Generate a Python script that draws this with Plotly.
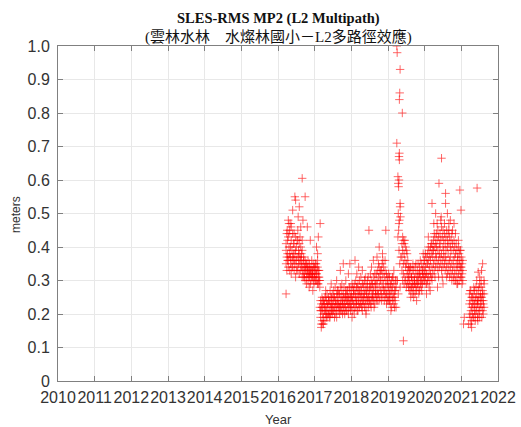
import plotly.graph_objects as go

# ---------------- data (decimal year, metres) ----------------
d16 = [2016.22, 2016.24, 2016.26, 2016.28, 2016.30, 2016.32, 2016.34, 2016.36, 2016.38, 2016.40,
       2016.42, 2016.44, 2016.46, 2016.48, 2016.50, 2016.52, 2016.54, 2016.56, 2016.58, 2016.60,
       2016.62, 2016.64, 2016.66, 2016.68, 2016.70, 2016.72, 2016.74, 2016.76, 2016.78, 2016.80,
       2016.82, 2016.84, 2016.86, 2016.88, 2016.90, 2016.92, 2016.94, 2016.96, 2016.98]
v16a = [0.41, 0.44, 0.38, 0.43, 0.40, 0.45, 0.37, 0.42, 0.39, 0.44,
        0.36, 0.41, 0.38, 0.43, 0.40, 0.37, 0.42, 0.39, 0.41, 0.36,
        0.40, 0.38, 0.42, 0.35, 0.37, 0.34, 0.36, 0.33, 0.35, 0.34,
        0.36, 0.33, 0.35, 0.32, 0.34, 0.36, 0.33, 0.35, 0.34]
v16b = [0.35, 0.33, 0.36, 0.34, 0.37, 0.33, 0.35, 0.32, 0.36, 0.34,
        0.38, 0.33, 0.35, 0.31, 0.36, 0.34, 0.33, 0.37, 0.32, 0.35,
        0.33, 0.36, 0.31, 0.33, 0.31, 0.32, 0.30, 0.33, 0.31, 0.32,
        0.30, 0.32, 0.31, 0.33, 0.30, 0.31, 0.32, 0.30, 0.31]
v16c = [0.39, 0.37, 0.42, 0.36, 0.44, 0.38, 0.40, 0.46, 0.34, 0.37,
        0.41, 0.44, 0.36, 0.39, 0.33, 0.42, 0.45, 0.35, 0.38, 0.43,
        0.37, 0.34, 0.39, 0.33, 0.36, 0.31, 0.34, 0.35, 0.29, 0.33,
        0.34, 0.31, 0.33, 0.29, 0.32, 0.33, 0.31, 0.33, 0.29]
o16_d = [2016.22, 2016.28, 2016.30, 2016.40, 2016.46, 2016.48, 2016.55, 2016.58, 2016.62, 2016.66,
         2016.68, 2016.74, 2016.80, 2016.88, 2016.85, 2016.95, 2016.35, 2016.25]
o16_v = [0.26, 0.48, 0.47, 0.51, 0.55, 0.54, 0.49, 0.52, 0.46, 0.605,
         0.48, 0.55, 0.46, 0.42, 0.28, 0.27, 0.47, 0.45]

d17 = [2017.00, 2017.02, 2017.04, 2017.06, 2017.08, 2017.10, 2017.12, 2017.14, 2017.16, 2017.18,
       2017.20, 2017.22, 2017.24, 2017.26, 2017.28, 2017.30, 2017.32, 2017.34, 2017.36, 2017.38,
       2017.40, 2017.42, 2017.44, 2017.46, 2017.48, 2017.50, 2017.52, 2017.54, 2017.56, 2017.58,
       2017.60, 2017.62, 2017.64, 2017.66, 2017.68, 2017.70, 2017.72, 2017.74, 2017.76, 2017.78,
       2017.80, 2017.82, 2017.84, 2017.86, 2017.88, 2017.90, 2017.92, 2017.94, 2017.96, 2017.98]
v17a = [0.34, 0.33, 0.35, 0.32, 0.34, 0.33, 0.31, 0.28, 0.24, 0.23,
        0.25, 0.22, 0.24, 0.23, 0.25, 0.22, 0.24, 0.26, 0.23, 0.25,
        0.24, 0.27, 0.25, 0.23, 0.26, 0.24, 0.27, 0.25, 0.28, 0.24,
        0.26, 0.25, 0.27, 0.24, 0.26, 0.28, 0.25, 0.27, 0.24, 0.26,
        0.28, 0.25, 0.27, 0.26, 0.24, 0.27, 0.25, 0.28, 0.26, 0.25]
v17b = [0.31, 0.30, 0.32, 0.30, 0.29, 0.31, 0.30, 0.22, 0.19, 0.21,
        0.18, 0.20, 0.19, 0.21, 0.18, 0.20, 0.21, 0.19, 0.22, 0.20,
        0.21, 0.19, 0.22, 0.21, 0.20, 0.23, 0.21, 0.22, 0.20, 0.22,
        0.21, 0.23, 0.21, 0.22, 0.20, 0.23, 0.22, 0.21, 0.23, 0.22,
        0.21, 0.23, 0.22, 0.24, 0.21, 0.23, 0.22, 0.24, 0.22, 0.23]
v17c = [0.32, 0.35, 0.30, 0.33, 0.36, 0.29, 0.33, 0.30, 0.21, 0.17,
        0.22, 0.24, 0.17, 0.23, 0.21, 0.25, 0.19, 0.23, 0.20, 0.24,
        0.19, 0.23, 0.20, 0.25, 0.22, 0.21, 0.25, 0.19, 0.24, 0.23,
        0.19, 0.27, 0.23, 0.26, 0.22, 0.21, 0.24, 0.29, 0.20, 0.25,
        0.23, 0.20, 0.25, 0.21, 0.27, 0.25, 0.20, 0.23, 0.28, 0.21]
o17_d = [2017.15, 2017.10, 2017.05, 2017.08, 2017.18, 2017.22, 2017.60, 2017.70, 2017.78, 2017.85,
         2017.92, 2017.96, 2017.30, 2017.45]
o17_v = [0.47, 0.43, 0.40, 0.38, 0.16, 0.17, 0.30, 0.33, 0.35, 0.30,
         0.32, 0.35, 0.27, 0.29]

d18 = [2018.00, 2018.02, 2018.04, 2018.06, 2018.08, 2018.10, 2018.12, 2018.14, 2018.16, 2018.18,
       2018.20, 2018.22, 2018.24, 2018.26, 2018.28, 2018.30, 2018.32, 2018.34, 2018.36, 2018.38,
       2018.40, 2018.42, 2018.44, 2018.46, 2018.48, 2018.50, 2018.52, 2018.54, 2018.56, 2018.58,
       2018.60, 2018.62, 2018.64, 2018.66, 2018.68, 2018.70, 2018.72, 2018.74, 2018.76, 2018.78,
       2018.80, 2018.82, 2018.84, 2018.86, 2018.88, 2018.90, 2018.92, 2018.94, 2018.96, 2018.98]
v18a = [0.27, 0.25, 0.28, 0.26, 0.29, 0.27, 0.25, 0.28, 0.26, 0.29,
        0.27, 0.30, 0.26, 0.28, 0.27, 0.29, 0.26, 0.28, 0.30, 0.27,
        0.29, 0.26, 0.28, 0.31, 0.27, 0.29, 0.28, 0.30, 0.27, 0.29,
        0.31, 0.28, 0.30, 0.29, 0.32, 0.30, 0.33, 0.31, 0.34, 0.32,
        0.30, 0.33, 0.35, 0.32, 0.34, 0.31, 0.33, 0.30, 0.32, 0.31]
v18b = [0.22, 0.24, 0.21, 0.23, 0.22, 0.24, 0.22, 0.23, 0.21, 0.24,
        0.23, 0.22, 0.25, 0.23, 0.22, 0.24, 0.23, 0.25, 0.22, 0.24,
        0.23, 0.25, 0.24, 0.22, 0.25, 0.24, 0.23, 0.25, 0.24, 0.26,
        0.24, 0.25, 0.23, 0.26, 0.25, 0.27, 0.24, 0.26, 0.28, 0.25,
        0.27, 0.26, 0.28, 0.25, 0.27, 0.24, 0.26, 0.25, 0.23, 0.24]
v18c = [0.25, 0.29, 0.24, 0.27, 0.20, 0.26, 0.30, 0.24, 0.28, 0.21,
        0.25, 0.27, 0.23, 0.31, 0.25, 0.21, 0.29, 0.24, 0.26, 0.31,
        0.21, 0.27, 0.30, 0.25, 0.23, 0.27, 0.32, 0.22, 0.29, 0.25,
        0.27, 0.22, 0.32, 0.27, 0.24, 0.29, 0.26, 0.35, 0.24, 0.30,
        0.33, 0.24, 0.30, 0.36, 0.29, 0.27, 0.36, 0.28, 0.26, 0.29]
o18_d = [2018.10, 2018.20, 2018.48, 2018.30, 2018.60, 2018.76, 2018.94, 2018.85, 2018.02, 2018.40,
         2018.55, 2018.70, 2018.15]
o18_v = [0.36, 0.34, 0.45, 0.33, 0.36, 0.40, 0.45, 0.38, 0.19, 0.20,
         0.34, 0.37, 0.32]

d19 = [2019.00, 2019.02, 2019.04, 2019.06, 2019.08, 2019.10, 2019.12, 2019.14, 2019.16, 2019.18,
       2019.20, 2019.22,
       2019.38, 2019.40, 2019.42, 2019.44, 2019.46, 2019.48, 2019.50, 2019.52, 2019.54, 2019.56,
       2019.58, 2019.60, 2019.62, 2019.64, 2019.66, 2019.68, 2019.70, 2019.72, 2019.74, 2019.76,
       2019.78, 2019.80, 2019.82, 2019.84, 2019.86, 2019.88, 2019.90, 2019.92, 2019.94, 2019.96,
       2019.98]
v19a = [0.30, 0.28, 0.31, 0.27, 0.29, 0.30, 0.28, 0.31, 0.29, 0.27,
        0.30, 0.28,
        0.41, 0.43, 0.42, 0.41, 0.42, 0.40, 0.39, 0.38, 0.36, 0.34,
        0.33, 0.32, 0.34, 0.31, 0.33, 0.30, 0.33, 0.31, 0.34, 0.32,
        0.30, 0.33, 0.35, 0.32, 0.34, 0.31, 0.33, 0.35, 0.32, 0.34,
        0.36]
v19b = [0.25, 0.24, 0.26, 0.23, 0.25, 0.22, 0.24, 0.26, 0.23, 0.25,
        0.24, 0.22,
        0.33, 0.30, 0.32, 0.29, 0.31, 0.30, 0.28, 0.29, 0.30, 0.28,
        0.27, 0.29, 0.27, 0.28, 0.26, 0.28, 0.27, 0.29, 0.26, 0.28,
        0.27, 0.29, 0.28, 0.30, 0.27, 0.29, 0.28, 0.30, 0.29, 0.31,
        0.30]
v19c = [0.27, 0.32, 0.24, 0.29, 0.21, 0.27, 0.31, 0.25, 0.33, 0.22,
        0.27, 0.30,
        0.37, 0.39, 0.35, 0.38, 0.36, 0.34, 0.35, 0.32, 0.33, 0.31,
        0.30, 0.34, 0.25, 0.31, 0.29, 0.35, 0.25, 0.30, 0.29, 0.35,
        0.24, 0.31, 0.30, 0.26, 0.32, 0.36, 0.30, 0.27, 0.33, 0.38,
        0.32]
spike_d = [2019.24, 2019.25, 2019.33, 2019.32, 2019.31, 2019.39, 2019.24, 2019.30, 2019.31, 2019.31,
           2019.27, 2019.28, 2019.30, 2019.29, 2019.33, 2019.33, 2019.28, 2019.31, 2019.30, 2019.34,
           2019.29, 2019.27, 2019.30, 2019.35, 2019.32, 2019.26, 2019.42, 2019.33, 2019.28]
spike_v = [1.00, 0.98, 0.93, 0.86, 0.84, 0.80, 0.71, 0.67, 0.66, 0.68,
           0.61, 0.59, 0.60, 0.58, 0.53, 0.52, 0.50, 0.48, 0.47, 0.49,
           0.45, 0.43, 0.39, 0.37, 0.35, 0.30, 0.12, 0.28, 0.26]

d20 = [2020.00, 2020.02, 2020.04, 2020.06, 2020.08, 2020.10, 2020.12, 2020.14, 2020.16, 2020.18,
       2020.20, 2020.22, 2020.24, 2020.26, 2020.28, 2020.30, 2020.32, 2020.34, 2020.36, 2020.38,
       2020.40, 2020.42, 2020.44, 2020.46, 2020.48, 2020.50, 2020.52, 2020.54, 2020.56, 2020.58,
       2020.60, 2020.62, 2020.64, 2020.66, 2020.68, 2020.70, 2020.72, 2020.74, 2020.76, 2020.78,
       2020.80, 2020.82, 2020.84, 2020.86, 2020.88, 2020.90, 2020.92, 2020.94, 2020.96, 2020.98]
v20a = [0.36, 0.34, 0.37, 0.35, 0.38, 0.36, 0.39, 0.37, 0.40, 0.38,
        0.41, 0.39, 0.42, 0.40, 0.43, 0.41, 0.44, 0.42, 0.45, 0.43,
        0.41, 0.44, 0.42, 0.46, 0.43, 0.45, 0.42, 0.44, 0.41, 0.43,
        0.45, 0.42, 0.44, 0.41, 0.43, 0.40, 0.42, 0.44, 0.41, 0.39,
        0.42, 0.40, 0.38, 0.41, 0.39, 0.37, 0.40, 0.38, 0.36, 0.39]
v20b = [0.30, 0.31, 0.29, 0.32, 0.30, 0.31, 0.33, 0.30, 0.32, 0.31,
        0.34, 0.32, 0.35, 0.33, 0.36, 0.34, 0.37, 0.35, 0.33, 0.36,
        0.34, 0.37, 0.35, 0.33, 0.36, 0.34, 0.37, 0.35, 0.33, 0.36,
        0.34, 0.32, 0.35, 0.33, 0.36, 0.34, 0.32, 0.35, 0.33, 0.31,
        0.34, 0.32, 0.30, 0.33, 0.31, 0.34, 0.32, 0.30, 0.33, 0.31]
v20c = [0.33, 0.38, 0.32, 0.29, 0.35, 0.40, 0.28, 0.34, 0.36, 0.41,
        0.30, 0.37, 0.39, 0.44, 0.31, 0.38, 0.40, 0.47, 0.39, 0.31,
        0.38, 0.40, 0.48, 0.38, 0.31, 0.40, 0.39, 0.47, 0.37, 0.39,
        0.31, 0.40, 0.38, 0.45, 0.31, 0.37, 0.39, 0.30, 0.45, 0.36,
        0.30, 0.37, 0.44, 0.35, 0.29, 0.36, 0.42, 0.35, 0.39, 0.34]
o20_d = [2020.46, 2020.39, 2020.57, 2020.20, 2020.57, 2020.30, 2020.45, 2020.62, 2020.70, 2020.96,
         2020.99, 2020.10, 2020.25, 2020.80, 2020.05, 2020.50, 2020.35, 2020.90, 2020.15, 2020.66]
o20_v = [0.665, 0.59, 0.56, 0.53, 0.53, 0.50, 0.49, 0.50, 0.48, 0.57,
         0.51, 0.43, 0.47, 0.47, 0.26, 0.29, 0.28, 0.29, 0.27, 0.47]

d21 = [2021.00, 2021.02, 2021.04,
       2021.22, 2021.24, 2021.26, 2021.28, 2021.30, 2021.32, 2021.34, 2021.36, 2021.38, 2021.40,
       2021.42, 2021.44, 2021.46, 2021.48, 2021.50, 2021.52, 2021.54, 2021.56, 2021.58, 2021.60,
       2021.62]
v21a = [0.37, 0.35, 0.33,
        0.26, 0.24, 0.27, 0.25, 0.23, 0.26, 0.24, 0.27, 0.25, 0.28,
        0.26, 0.24, 0.27, 0.25, 0.29, 0.26, 0.28, 0.25, 0.27, 0.24,
        0.26]
v21b = [0.31, 0.32, 0.30,
        0.20, 0.19, 0.21, 0.18, 0.20, 0.22, 0.19, 0.21, 0.20, 0.22,
        0.21, 0.23, 0.20, 0.22, 0.21, 0.23, 0.22, 0.24, 0.21, 0.23,
        0.22]
v21c = [0.34, 0.29, 0.36,
        0.23, 0.27, 0.17, 0.22, 0.25, 0.19, 0.28, 0.23, 0.18, 0.24,
        0.30, 0.19, 0.24, 0.28, 0.19, 0.25, 0.30, 0.19, 0.26, 0.20,
        0.29]
o21_d = [2021.43, 2021.20, 2021.28, 2021.50, 2021.55, 2021.58, 2021.62, 2021.45, 2021.06, 2021.08,
         2021.46]
o21_v = [0.576, 0.17, 0.16, 0.31, 0.33, 0.35, 0.30, 0.18, 0.17, 0.19,
         0.325]

x_ticks = [2010, 2011, 2012, 2013, 2014, 2015, 2016, 2017, 2018, 2019, 2020, 2021, 2022]
y_ticks = [0, 0.1, 0.2, 0.3, 0.4, 0.5, 0.6, 0.7, 0.8, 0.9, 1.0]
y_ticktext = ["0", "0.1", "0.2", "0.3", "0.4", "0.5", "0.6", "0.7", "0.8", "0.9", "1.0"]

title_text = "<b>SLES-RMS MP2 (L2 Multipath)</b>"
subtitle_text = "(雲林水林　水燦林國小－L2多路徑效應)"

# ---------------- assemble ----------------
xs, ys = [], []
for d, vals in [(d16, [v16a, v16b, v16c]), (d17, [v17a, v17b, v17c]), (d18, [v18a, v18b, v18c]),
                (d19, [v19a, v19b, v19c]), (d20, [v20a, v20b, v20c]), (d21, [v21a, v21b, v21c])]:
    for v in vals:
        xs += d
        ys += v
for d, v in [(o16_d, o16_v), (o17_d, o17_v), (o18_d, o18_v), (spike_d, spike_v),
             (o20_d, o20_v), (o21_d, o21_v)]:
    xs += d
    ys += v

fig = go.Figure()
fig.add_trace(go.Scatter(
    x=xs, y=ys, mode="markers",
    marker=dict(symbol="cross-thin", size=6, line=dict(color="#ff0000", width=0.8),
                color="#ff0000", opacity=0.75),
    showlegend=False, hoverinfo="skip"))

axis_common = dict(
    showline=True, linecolor="#808080", linewidth=1, mirror="ticks",
    ticks="inside", ticklen=5, tickcolor="#808080", automargin=False,
    showgrid=True, gridcolor="#e8e8e8", gridwidth=1, zeroline=False,
    tickfont=dict(family="Liberation Sans, Arial, sans-serif", size=16, color="#333333"),
)

fig.update_layout(
    width=521, height=427,
    margin=dict(l=58, r=23, t=46, b=46, autoexpand=False),
    paper_bgcolor="white", plot_bgcolor="white",
    xaxis=dict(range=[2010, 2022], tickvals=x_ticks, ticktext=[str(t) for t in x_ticks],
               tickangle=0, ticklabelstandoff=2, **axis_common),
    yaxis=dict(range=[0, 1.0], tickvals=y_ticks, ticktext=y_ticktext, ticklabelstandoff=4,
               **axis_common),
    annotations=[
        dict(text=title_text, x=0.5, y=17, xref="paper", yref="paper", showarrow=False,
             font=dict(family="Liberation Serif, Times New Roman, serif", size=14.5, color="#111111")),
        dict(text=subtitle_text, x=0.5, y=0, xref="paper", yref="paper", showarrow=False,
             font=dict(family="Liberation Serif, Noto Sans CJK TC, serif", size=15, color="#111111")),
        dict(text="Year", x=0.5, y=0, xref="paper", yref="paper", showarrow=False,
             font=dict(family="Liberation Sans, Arial, sans-serif", size=13, color="#333333")),
        dict(text="meters", x=0, y=0.5, xref="paper", yref="paper", showarrow=False, textangle=-90,
             font=dict(family="Liberation Sans, Arial, sans-serif", size=12, color="#333333")),
    ],
)

# position annotations in pixel terms relative to plot area (plot height 335, width 440)
ph, pw = 335.0, 440.0
fig.layout.annotations[0].update(y=1 + (46 - 18) / ph, yanchor="middle")
fig.layout.annotations[1].update(y=1 + (46 - 37) / ph, yanchor="middle")
fig.layout.annotations[2].update(y=-(419 - 381) / ph, yanchor="middle")
fig.layout.annotations[3].update(x=-(58 - 16) / pw, xanchor="center", y=(381 - 215) / ph, yanchor="middle")

fig.write_html("out.html", config=dict(displayModeBar=False),
               post_script="document.body.style.margin='0';document.body.style.overflow='hidden';")
